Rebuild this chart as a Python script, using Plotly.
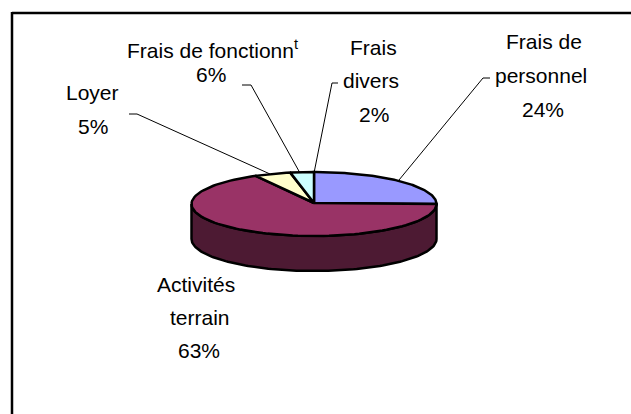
import numpy as np
import plotly.graph_objects as go

# Slices as labelled in the chart
categories = ["Frais de personnel", "Activités terrain", "Loyer", "Frais de fonctionn<sup>t</sup>", "Frais divers"]
percent_labels = [24, 63, 5, 6, 2]
# Angular share of each slice as actually drawn in the picture (clockwise from 12 o'clock)
drawn_shares = [25.0, 67.1, 4.8, 3.1, 0.0]
slice_colors = ["#9999FF", "#993366", "#FFFFCC", "#CCFFFF", "#CCFFFF"]
side_color = "#4D1A33"

W, H = 631, 414
CX, CY, RX, RY, DEPTH = 314, 204, 122.5, 32, 35

# text blocks: lines of each label with the centre x and y of each line
label_lines = {
    0: ["Frais de", "personnel", f"{percent_labels[0]}%"],
    1: ["Activités", "terrain", f"{percent_labels[1]}%"],
    2: ["Loyer", f"{percent_labels[2]}%"],
    3: ["Frais de fonctionn<sup>t</sup>", f"{percent_labels[3]}%"],
    4: ["Frais", "divers", f"{percent_labels[4]}%"],
}
label_x = {0: [544, 541, 543], 1: [196, 199.5, 199], 2: [92, 93], 3: [212, 210.5], 4: [373.5, 371, 373.5]}
label_y = {0: [41, 75, 109], 1: [284, 317, 350], 2: [92, 126], 3: [49, 74], 4: [47, 80, 114]}

leaders = [
    [(490, 78), (483, 78), (399, 180)],
    [(129, 114), (137, 114), (270, 174)],
    [(242, 85), (251, 85), (300, 173)],
    [(338, 83), (332, 83), (314, 173)],
]


def pt(theta, dy=0.0):
    return CX + RX * np.sin(theta), CY - RY * np.cos(theta) + dy


fig = go.Figure()
line = dict(color="black", width=2.5)

# side wall (front half of the disc)
th = np.linspace(np.pi / 2, 3 * np.pi / 2, 120)
x1, y1 = pt(th)
x2, y2 = pt(th[::-1], DEPTH)
fig.add_trace(go.Scatter(x=np.r_[x1, x2, x1[0]], y=np.r_[y1, y2, y1[0]], mode="lines",
                         fill="toself", fillcolor=side_color, line=line, hoverinfo="skip"))

# top face wedges
edges = np.r_[0, np.cumsum(drawn_shares)] / sum(drawn_shares) * 2 * np.pi
for i, color in enumerate(slice_colors):
    if drawn_shares[i] <= 0:
        continue
    th = np.linspace(edges[i], edges[i + 1], 100)
    x, y = pt(th)
    fig.add_trace(go.Scatter(x=np.r_[CX, x, CX], y=np.r_[CY - 1, y, CY - 1], mode="lines",
                             fill="toself", fillcolor=color, line=line, hoverinfo="skip",
                             name=categories[i]))

shapes = [
    dict(type="line", x0=12, x1=12, y0=12, y1=H, line=dict(color="black", width=2.5)),
    dict(type="line", x0=12, x1=W, y0=13, y1=13, line=dict(color="black", width=2.5)),
]
for seg in leaders:
    for a, b in zip(seg[:-1], seg[1:]):
        shapes.append(dict(type="line", x0=a[0], y0=a[1], x1=b[0], y1=b[1],
                           line=dict(color="black", width=1)))

annotations = []
for i, lines in label_lines.items():
    for text, x, y in zip(lines, label_x[i], label_y[i]):
        annotations.append(dict(x=x, y=y, text=text, showarrow=False,
                                xanchor="center", yanchor="middle",
                                font=dict(family="Liberation Sans, Arial, sans-serif", size=21, color="black")))

fig.update_layout(
    width=W, height=H, margin=dict(l=0, r=0, t=0, b=0),
    paper_bgcolor="white", plot_bgcolor="white", showlegend=False,
    xaxis=dict(range=[0, W], visible=False, fixedrange=True),
    yaxis=dict(range=[H, 0], visible=False, fixedrange=True),
    shapes=shapes, annotations=annotations,
)
fig.write_html("out.html", config=dict(displayModeBar=False),
               post_script="document.documentElement.style.margin='0';document.body.style.margin='0';document.body.style.overflow='hidden';")
